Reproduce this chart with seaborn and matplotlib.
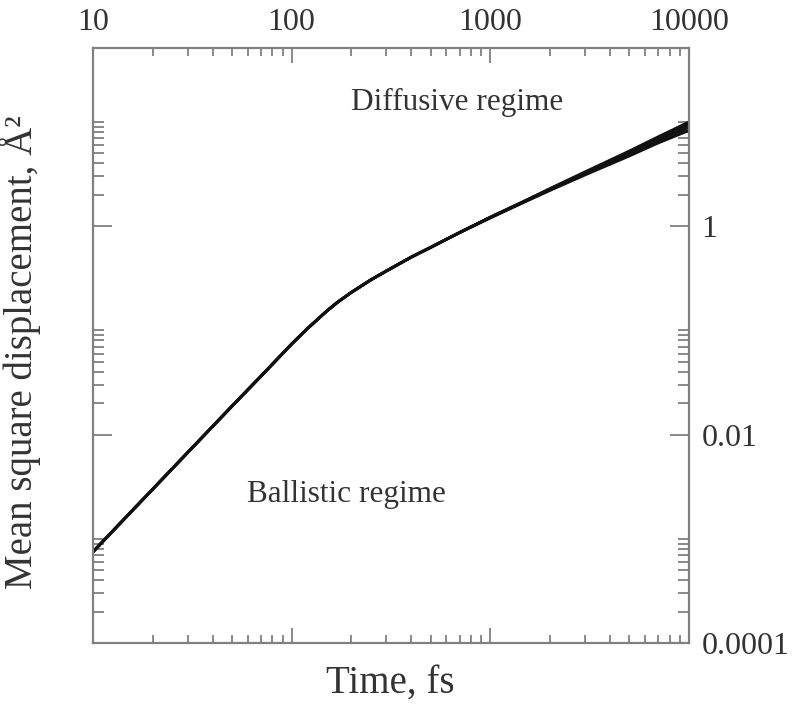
import numpy as np
import pandas as pd
import matplotlib
matplotlib.use("Agg")
import matplotlib.pyplot as plt
from matplotlib.ticker import FixedLocator, FixedFormatter, NullFormatter
import seaborn as sns

# ---- data ----
time_fs = [10, 15, 20, 30, 50, 70, 85, 100, 120, 150, 170, 200, 250, 300,
           400, 500, 700, 1000, 1500, 2000, 3000, 5000, 7000, 10000]
msd_run1 = [7.5e-4, 1.69e-3, 3.0e-3, 6.75e-3, 1.87e-2, 3.63e-2, 5.35e-2, 7.4e-2,
            0.104, 0.153, 0.186, 0.232, 0.305, 0.372, 0.505, 0.625, 0.870,
            1.22, 1.76, 2.30, 3.32, 5.25, 7.2, 10.0]
msd_run2 = [7.5e-4, 1.69e-3, 3.0e-3, 6.75e-3, 1.87e-2, 3.63e-2, 5.35e-2, 7.4e-2,
            0.104, 0.153, 0.186, 0.232, 0.305, 0.372, 0.505, 0.625, 0.870,
            1.22, 1.75, 2.27, 3.25, 5.08, 6.9, 9.5]
msd_run3 = [7.5e-4, 1.69e-3, 3.0e-3, 6.75e-3, 1.87e-2, 3.63e-2, 5.35e-2, 7.4e-2,
            0.104, 0.153, 0.186, 0.232, 0.305, 0.372, 0.505, 0.625, 0.868,
            1.21, 1.74, 2.24, 3.18, 4.90, 6.6, 8.9]
msd_run4 = [7.5e-4, 1.69e-3, 3.0e-3, 6.75e-3, 1.87e-2, 3.63e-2, 5.35e-2, 7.4e-2,
            0.104, 0.153, 0.186, 0.232, 0.305, 0.372, 0.505, 0.625, 0.866,
            1.20, 1.72, 2.21, 3.11, 4.72, 6.3, 8.3]
runs = ["run 1", "run 2", "run 3", "run 4"]

x_ticks = [10, 100, 1000, 10000]
x_tick_labels = ["10", "100", "1000", "10000"]
y_ticks = [1e-4, 1e-2, 1]
y_tick_labels = ["0.0001", "0.01", "1"]

df = pd.concat([
    pd.DataFrame({"time": time_fs, "msd": vals, "run": name})
    for name, vals in zip(runs, [msd_run1, msd_run2, msd_run3, msd_run4])
], ignore_index=True)

sns.set_style("ticks")
plt.rcParams["font.family"] = ["Liberation Serif", "DejaVu Serif"]

fig = plt.figure(figsize=(7.94, 7.09), dpi=100)
ax = fig.add_axes([93 / 794, 1 - 643 / 709, 596 / 794, 595 / 709])

sns.lineplot(data=df, x="time", y="msd", hue="run",
             palette=["#111111"] * 4, linewidth=2.1, legend=False, ax=ax,
             estimator=None)

ax.set_xscale("log")
ax.set_yscale("log")
ax.set_xlim(10, 10000)
ax.set_ylim(1e-4, 10 ** 1.71)

spine_col = "#808080"
for s in ax.spines.values():
    s.set_color(spine_col)
    s.set_linewidth(1.6)

# x ticks
ax.xaxis.set_major_locator(FixedLocator(x_ticks))
ax.xaxis.set_major_formatter(FixedFormatter(x_tick_labels))
xminor = [k * 10 ** e for e in range(1, 4) for k in range(2, 10)]
ax.xaxis.set_minor_locator(FixedLocator(xminor))
ax.xaxis.set_minor_formatter(NullFormatter())

# y ticks
ax.yaxis.set_major_locator(FixedLocator(y_ticks))
ax.yaxis.set_major_formatter(FixedFormatter(y_tick_labels))
yminor = [k * 10.0 ** e for e in (-4, -2, 0) for k in range(2, 11)]
ax.yaxis.set_minor_locator(FixedLocator(yminor))
ax.yaxis.set_minor_formatter(NullFormatter())

ax.tick_params(axis="both", which="both", direction="in", color=spine_col,
               top=True, right=True, left=True, bottom=True,
               labeltop=True, labelbottom=False, labelleft=False, labelright=True,
               labelsize=23, labelcolor="#333333", width=1.3)
ax.tick_params(axis="x", which="major", length=11, pad=8)
ax.tick_params(axis="x", which="minor", length=6)
ax.tick_params(axis="y", which="major", length=14, pad=9)
ax.tick_params(axis="y", which="minor", length=8)

ax.set_xlabel("Time, fs", fontsize=28, color="#333333", va="top")
ax.xaxis.set_label_position("bottom")
ax.xaxis.set_label_coords(0.499, -0.036)
ax.set_ylabel("Mean square displacement, Å²", fontsize=28, color="#333333",
              va="center")
ax.yaxis.set_label_position("left")
ax.yaxis.set_label_coords(-0.088, 0.489)

ax.text(0.611, 0.908, "Diffusive regime", transform=ax.transAxes,
        ha="center", va="center", fontsize=22.5, color="#333333")
ax.text(0.4245, 0.249, "Ballistic regime", transform=ax.transAxes,
        ha="center", va="center", fontsize=22.5, color="#333333")

fig.savefig("out.png", dpi=100)
